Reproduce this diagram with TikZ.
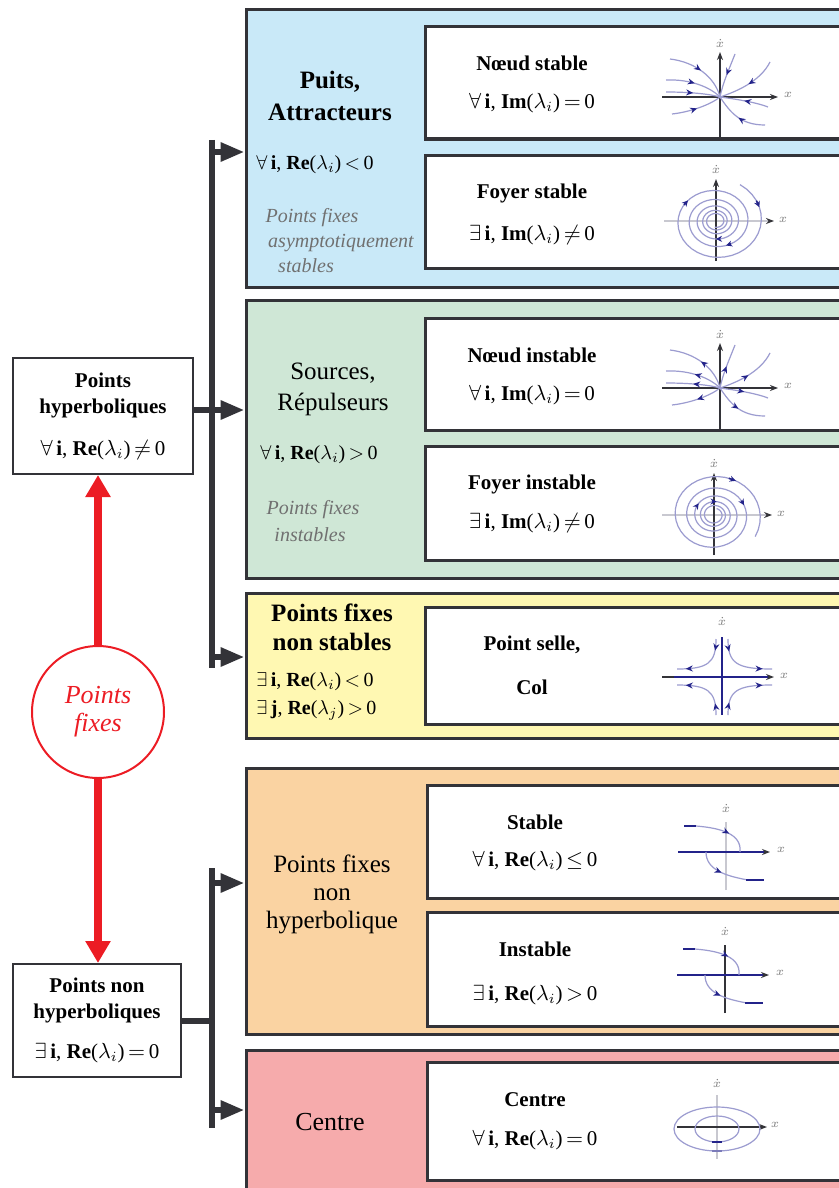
\documentclass[tikz,border=0pt]{standalone}
\usepackage{fontspec}
\setmainfont{Liberation Serif}
\usetikzlibrary{arrows.meta,positioning,decorations.markings}
\definecolor{bord}{HTML}{333338}
\definecolor{puitsfill}{HTML}{C9E9F8}
\definecolor{sourcefill}{HTML}{CFE7D6}
\definecolor{sellefill}{HTML}{FFF8B2}
\definecolor{nonhypfill}{HTML}{FAD3A2}
\definecolor{centrefill}{HTML}{F6ABAC}
\definecolor{rouge}{HTML}{EC1C24}
\definecolor{trajc}{HTML}{9C9CD0}
\definecolor{navy}{HTML}{23238A}
\definecolor{notec}{HTML}{707070}
\definecolor{axlight}{HTML}{C8C8D0}

\begin{document}
\begin{tikzpicture}[x=0.5pt,y=-0.5pt,
    panel/.style={draw=bord,line width=1.5pt,minimum width=302pt,inner sep=0pt},
    casebox/.style={draw=bord,line width=1.5pt,fill=white,minimum width=212.5pt,inner sep=0pt},
    leftbox/.style={draw=bord,line width=1pt,fill=white,inner sep=0pt,align=center,font=\fontsize{10.5}{13}\selectfont},
    paneltitle/.style={align=center,font=\fontsize{12.5}{15.5}\selectfont},
    condtxt/.style={font=\fontsize{10}{12}\selectfont,inner sep=0pt},
    fixnote/.style={text=notec,font=\fontsize{10}{12}\selectfont\itshape,inner sep=0pt},
    casetxt/.style={font=\fontsize{10.5}{12.5}\selectfont},
    link/.style={draw=bord,line width=3pt},
    linkarr/.style={link,-{Triangle[length=12pt,width=9pt]}},
    redarr/.style={draw=rouge,line width=4pt,-{Triangle[length=11pt,width=12pt]}},
    axis/.style={draw=bord,line width=1pt},
    axlbl/.style={font=\fontsize{6}{6}\selectfont,text=gray,inner sep=0pt},
    traj/.style={draw=trajc,line width=0.6pt},
    tick/.style={draw=navy,line width=0.8pt,-{Stealth[length=3pt,width=3pt]}},
    flowin/.style={postaction={decorate,decoration={markings,mark=at position #1 with {\arrow{Stealth[length=3.5pt,width=3pt,color=navy]}}}}},
    flowin/.default=0.5,
    flowout/.style={postaction={decorate,decoration={markings,mark=at position #1 with {\arrowreversed{Stealth[length=3.5pt,width=3pt,color=navy]}}}}},
    flowout/.default=0.5,
    pics/noeud/.style={code={
        \draw[axis,-{Stealth[length=4pt]}] (-58,0) -- (58,0);
        \draw[axis,-{Stealth[length=4pt]}] (0,42) -- (0,-45);
        \node[axlbl] at (68,-2) {$x$};
        \node[axlbl] at (0,-54) {$\dot x$};
        \draw[traj,#1] (-50,-38) .. controls (-25,-35) and (-5,-20) .. (0,0);
        \draw[traj,#1] (-54,-17) .. controls (-30,-18) and (-10,-10) .. (0,0);
        \draw[traj,#1] (-54,-5) .. controls (-30,-5) and (-10,-3) .. (0,0);
        \draw[traj,#1] (-48,17) .. controls (-30,15) and (-10,8) .. (0,0);
        \draw[traj,#1] (15,-43) .. controls (10,-30) and (3,-15) .. (0,0);
        \draw[traj,#1] (50,-35) .. controls (40,-15) and (15,-5) .. (0,0);
        \draw[traj,#1] (48,10) .. controls (35,5) and (15,2) .. (0,0);
        \draw[traj,#1] (45,28) .. controls (20,28) and (10,15) .. (0,0);
    }},
    pics/spirale/.style={code={
        \draw[draw=axlight,line width=1pt,-{Stealth[length=4pt,color=bord]}] (-52,0) -- (58,0);
        \draw[axis,-{Stealth[length=4pt]}] (0,40) -- (0,-42);
        \node[axlbl] at (67,-1) {$x$};
        \node[axlbl] at (0,-52) {$\dot x$};
    }},
    pics/plat/.style={code={
        \draw[draw=#1,line width=1pt] (0,38) -- (0,-30);
        \draw[bord,line width=1pt,-{Stealth[length=4pt]}] (36,0) -- (44,0);
        \draw[navy,line width=1.4pt] (-48,0) -- (38,0);
        \node[axlbl] at (55,-2) {$x$};
        \node[axlbl] at (0,-44) {$\dot x$};
        \draw[traj,flowin=0.6] (-30,-26) .. controls (-5,-24) and (16,-18) .. (14,0);
        \draw[navy,line width=1.4pt] (-42,-26) -- (-30,-26);
        \draw[traj,flowin=0.5] (-20,0) .. controls (-20,18) and (0,24) .. (22,28);
        \draw[navy,line width=1.4pt] (20,28) -- (38,28);
    }},
]
\clip (0,0) rectangle (839,1188);

\node[panel,fill=puitsfill,minimum height=138.5pt] (puits) at (548,148.5) {};
\node[panel,fill=sourcefill,minimum height=139pt] (sources) at (548,439) {};
\node[panel,fill=sellefill,minimum height=72.5pt] (selle) at (548,665.5) {};
\node[panel,fill=nonhypfill,minimum height=133pt] (nonhyp) at (548,901) {};
\node[panel,fill=centrefill,minimum height=75pt] (centre) at (548,1125) {};

\node[paneltitle,font=\fontsize{12.5}{16}\selectfont\bfseries] (puitsT) at (330,96) {Puits,\\Attracteurs};
\node[condtxt,anchor=west] (puitsC) at (256,165) {$\forall$\,\textbf{i}, \textbf{Re}($\lambda_{i}$)$\,<\,$0};
\node[fixnote] (puitsN1) at (312,218) {Points fixes};
\node[fixnote] (puitsN2) at (341,243) {asymptotiquement};
\node[fixnote] (puitsN3) at (306,266) {stables};

\node[paneltitle] (sourcesT) at (333,389) {Sources,\\Répulseurs};
\node[condtxt,anchor=west] (sourcesC) at (260,455) {$\forall$\,\textbf{i}, \textbf{Re}($\lambda_{i}$)$\,>\,$0};
\node[fixnote] (sourcesN1) at (313,510) {Points fixes};
\node[fixnote] (sourcesN2) at (310,535) {instables};

\node[paneltitle,font=\fontsize{12.5}{14.5}\selectfont\bfseries] (selleT) at (332,627.5) {Points fixes\\non stables};
\node[condtxt,anchor=west] (selleC1) at (256,682) {$\exists$\,\textbf{i}, \textbf{Re}($\lambda_{i}$)$\,<\,$0};
\node[condtxt,anchor=west] (selleC2) at (256,710) {$\exists$\,\textbf{j}, \textbf{Re}($\lambda_{j}$)$\,>\,$0};

\node[paneltitle,font=\fontsize{12.5}{14}\selectfont] (nonhypT) at (332,894) {Points fixes\\non\\hyperbolique};
\node[paneltitle,font=\fontsize{13}{15}\selectfont] (centreT) at (330,1122) {Centre};

\node[casebox,minimum height=56pt] (noeudS) at (637.5,83) {};
\node[casebox,minimum height=56.5pt] (foyerS) at (637.5,211.5) {};
\node[casebox,minimum height=56pt] (noeudI) at (637.5,374) {};
\node[casebox,minimum height=57pt] (foyerI) at (637.5,503) {};
\node[casebox,minimum height=58.5pt] (col) at (637.5,665.5) {};
\node[casebox,minimum width=211.5pt,minimum height=56.5pt] (plusS) at (638.5,841.5) {};
\node[casebox,minimum width=211.5pt,minimum height=57pt] (plusI) at (638.5,969) {};
\node[casebox,minimum width=211.5pt,minimum height=59pt] (centreB) at (638.5,1121) {};

\node[casetxt,font=\fontsize{10.5}{12.5}\selectfont\bfseries] at (532,63) {Nœud stable};
\node[casetxt] at (532,103) {$\forall$\,\textbf{i}, \textbf{Im}($\lambda_{i}$)$\,=\,$0};
\node[casetxt,font=\fontsize{10.5}{12.5}\selectfont\bfseries] at (532,193) {Foyer stable};
\node[casetxt] at (532,235) {$\exists$\,\textbf{i}, \textbf{Im}($\lambda_{i}$)$\,\neq\,$0};
\node[casetxt,font=\fontsize{10.5}{12.5}\selectfont\bfseries] at (532,355) {Nœud instable};
\node[casetxt] at (532,395) {$\forall$\,\textbf{i}, \textbf{Im}($\lambda_{i}$)$\,=\,$0};
\node[casetxt,font=\fontsize{10.5}{12.5}\selectfont\bfseries] at (532,484) {Foyer instable};
\node[casetxt] at (532,523) {$\exists$\,\textbf{i}, \textbf{Im}($\lambda_{i}$)$\,\neq\,$0};
\node[casetxt,font=\fontsize{10.5}{12.5}\selectfont\bfseries] at (532,645) {Point selle,};
\node[casetxt,font=\fontsize{10.5}{12.5}\selectfont\bfseries] at (532,687) {Col};
\node[casetxt,font=\fontsize{10.5}{12.5}\selectfont\bfseries] at (535,822) {Stable};
\node[casetxt] at (535,861) {$\forall$\,\textbf{i}, \textbf{Re}($\lambda_{i}$)$\,\leq\,$0};
\node[casetxt,font=\fontsize{10.5}{12.5}\selectfont\bfseries] at (535,949) {Instable};
\node[casetxt] at (535,995) {$\exists$\,\textbf{i}, \textbf{Re}($\lambda_{i}$)$\,>\,$0};
\node[casetxt,font=\fontsize{10.5}{12.5}\selectfont\bfseries] at (535,1100) {Centre};
\node[casetxt] at (535,1140) {$\forall$\,\textbf{i}, \textbf{Re}($\lambda_{i}$)$\,=\,$0};

\pic at (720,97) {noeud=flowin=0.45};
\pic at (720,388) {noeud=flowout=0.5};

\begin{scope}[shift={(716,221)}]
    \pic {spirale};
    \draw[traj] plot[domain=-60:1900,samples=200]
        ({48*exp(-0.35*(\x+60)/360)*cos(\x)},{42*exp(-0.35*(\x+60)/360)*sin(\x)});
    \foreach \t in {-30,210,420,800} {
        \draw[tick] ({48*exp(-0.35*(\t+60)/360)*cos(\t)},{42*exp(-0.35*(\t+60)/360)*sin(\t)})
            -- ({48*exp(-0.35*(\t+70)/360)*cos(\t+10)},{42*exp(-0.35*(\t+70)/360)*sin(\t+10)});
    }
\end{scope}

\begin{scope}[shift={(714,515)}]
    \pic {spirale};
    \draw[traj] plot[domain=0:1900,samples=200]
        ({7.5*exp(0.35*\x/360)*cos(\x-70)},{6.8*exp(0.35*\x/360)*sin(\x-70)});
    \foreach \t in {700,1000,1480,1800} {
        \draw[tick] ({7.5*exp(0.35*\t/360)*cos(\t-70)},{6.8*exp(0.35*\t/360)*sin(\t-70)})
            -- ({7.5*exp(0.35*(\t+10)/360)*cos(\t-60)},{6.8*exp(0.35*(\t+10)/360)*sin(\t-60)});
    }
\end{scope}

\begin{scope}[shift={(722,677)}]
    \draw[bord,line width=1.2pt] (-60,0) -- (-48,0);
    \draw[navy,line width=1.2pt,-{Stealth[length=4pt,color=bord]}] (-48,0) -- (52,0);
    \draw[navy,line width=1.2pt] (0,-40) -- (0,38);
    \node[axlbl] at (62,-1) {$x$};
    \node[axlbl] at (0,-56) {$\dot x$};
    \draw[traj,flowin=0.2,flowin=0.85] (-6,-38) .. controls (-6,-14) and (-14,-8) .. (-45,-8);
    \draw[traj,flowin=0.2,flowin=0.85] (6,-38) .. controls (6,-14) and (14,-8) .. (50,-8);
    \draw[traj,flowin=0.2,flowin=0.85] (-6,38) .. controls (-6,14) and (-14,8) .. (-45,8);
    \draw[traj,flowin=0.2,flowin=0.85] (6,38) .. controls (6,14) and (14,8) .. (50,8);
\end{scope}

\pic at (726,852) {plat=axlight};
\pic at (725,975) {plat=bord};

\begin{scope}[shift={(717,1127)}]
    \draw[draw=axlight,line width=1pt] (0,-32) -- (0,32);
    \draw[axis,-{Stealth[length=4pt]}] (-40,0) -- (50,0);
    \node[axlbl] at (58,-2) {$x$};
    \node[axlbl] at (0,-44) {$\dot x$};
    \draw[traj] (0,2) ellipse [x radius=43, y radius=22];
    \draw[traj] (0,2) ellipse [x radius=22, y radius=13];
    \draw[navy,line width=1.4pt] (-5,15) -- (5,15);
    \draw[navy!60,line width=1.4pt] (-5,24) -- (5,24);
\end{scope}

\node[leftbox,minimum width=90pt,minimum height=58pt] (hyp) at (103,416)
    {\textbf{Points}\\\textbf{hyperboliques}\\[8pt]$\forall$\,\textbf{i}, \textbf{Re}($\lambda_{i}$)$\,\neq\,$0};
\node[leftbox,minimum width=84pt,minimum height=56.5pt] (nhyp) at (97,1020.5)
    {\textbf{Points non}\\\textbf{hyperboliques}\\[7pt]$\exists$\,\textbf{i}, \textbf{Re}($\lambda_{i}$)$\,=\,$0};
\node[draw=rouge,line width=1pt,circle,minimum size=66pt,inner sep=0pt,align=center,
    text=rouge,font=\fontsize{13}{14}\selectfont\itshape] (fixes) at (98,712) {Points\\fixes};

\draw[redarr] (fixes.north) -- (fixes.north |- hyp.south);
\draw[redarr] (fixes.south) -- (fixes.south |- nhyp.north);

\coordinate (busA) at (212,140);
\coordinate (busB) at (212,668);
\coordinate (busC) at (212,868);
\coordinate (busD) at (212,1128);
\draw[link] (busA) -- (busB);
\draw[link] (busC) -- (busD);
\draw[link] ([yshift=3pt]hyp.east) -- ([yshift=3pt]hyp.east -| busA);
\draw[link] (nhyp.east) -- (nhyp.east -| busC);

\coordinate (tapP) at (212,152);
\coordinate (tapS) at (212,410);
\coordinate (tapY) at (212,657);
\coordinate (tapN) at (212,883);
\coordinate (tapC) at (212,1110);
\draw[linkarr] (tapP) -- (tapP -| puits.west);
\draw[linkarr] (tapS) -- (tapS -| sources.west);
\draw[linkarr] (tapY) -- (tapY -| selle.west);
\draw[linkarr] (tapN) -- (tapN -| nonhyp.west);
\draw[linkarr] (tapC) -- (tapC -| centre.west);
\end{tikzpicture}
\end{document}
